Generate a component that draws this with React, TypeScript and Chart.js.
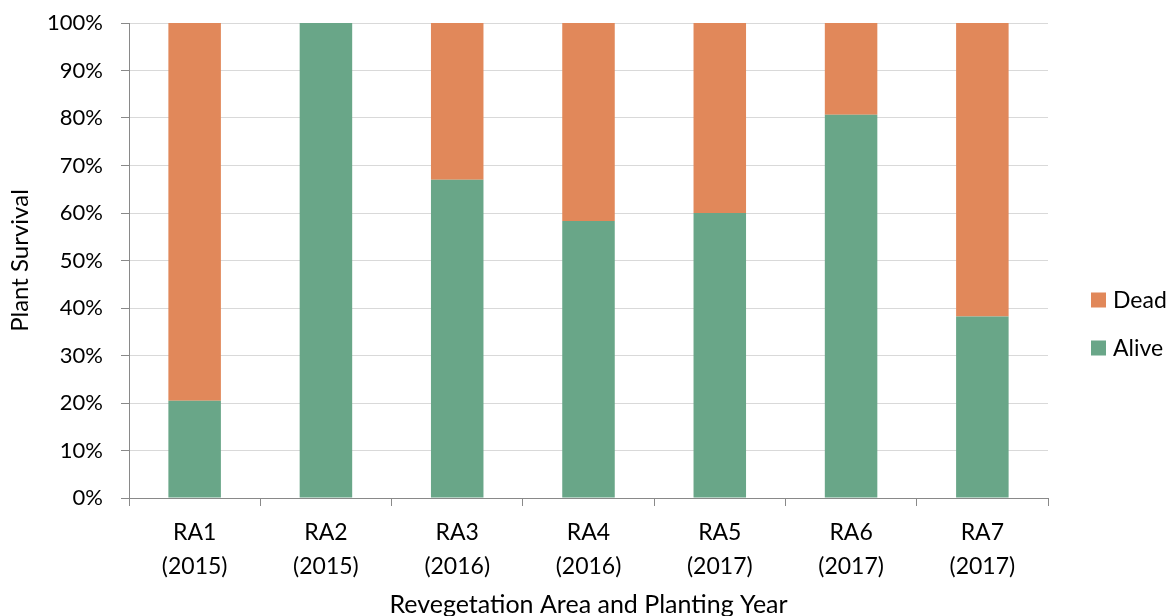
import React, { useEffect, useRef } from "react";
import { Chart, registerables } from "chart.js";

Chart.register(...registerables);

const categories: string[][] = [
  ["RA1", "(2015)"],
  ["RA2", "(2015)"],
  ["RA3", "(2016)"],
  ["RA4", "(2016)"],
  ["RA5", "(2017)"],
  ["RA6", "(2017)"],
  ["RA7", "(2017)"],
];
const aliveValues = [20.5, 100, 67, 58.3, 60, 80.7, 38.2];
const deadValues = [79.5, 0, 33, 41.7, 40, 19.3, 61.8];
const yTickValues = [0, 10, 20, 30, 40, 50, 60, 70, 80, 90, 100];

const FONT = "Lato, 'Open Sans', sans-serif";
const TEXT = "#000000";
const AXIS = "#898989";
const GRID = "#d9d9d9";

const legendPlugin = {
  id: "customLegend",
  afterDraw(chart: any) {
    const ctx = chart.ctx;
    const ds = chart.data.datasets.slice().reverse();
    ctx.save();
    ctx.font = `23px ${FONT}`;
    ctx.textBaseline = "middle";
    ctx.textAlign = "left";
    ds.forEach((d: any, i: number) => {
      const cy = 300 + i * 48;
      ctx.fillStyle = d.backgroundColor;
      ctx.fillRect(1091, cy - 7.5, 15, 15);
      ctx.fillStyle = TEXT;
      ctx.fillText(d.label, 1113, cy + 1);
    });
    ctx.restore();
  },
};

export default function App() {
  const ref = useRef<HTMLCanvasElement>(null);
  useEffect(() => {
    if (!ref.current) return;
    const chart = new Chart(ref.current, {
      type: "bar",
      data: {
        labels: categories,
        datasets: [
          {
            label: "Alive",
            data: aliveValues,
            backgroundColor: "#69A688",
            borderWidth: 0,
            categoryPercentage: 0.4,
            barPercentage: 1,
          },
          {
            label: "Dead",
            data: deadValues,
            backgroundColor: "#E1885A",
            borderWidth: 0,
            categoryPercentage: 0.4,
            barPercentage: 1,
          },
        ],
      },
      options: {
        responsive: false,
        animation: false,
        layout: { padding: { top: 23, right: 120, bottom: 0, left: 0 } },
        plugins: {
          legend: { display: false },
          tooltip: { enabled: false },
        },
        scales: {
          x: {
            stacked: true,
            grid: {
              drawOnChartArea: false,
              drawTicks: true,
              tickLength: 8,
              offset: true,
              color: AXIS,
            },
            border: { color: AXIS, width: 1 },
            ticks: {
              color: TEXT,
              padding: 10,
              maxRotation: 0,
              font: { family: FONT, size: 23, lineHeight: 34 / 23 },
            },
            title: {
              display: true,
              text: "Revegetation Area and Planting Year",
              color: TEXT,
              font: { family: FONT, size: 25, lineHeight: 1.0 },
              padding: { top: 0, bottom: -1 },
            },
            afterFit(scale: any) {
              scale.height = 118;
            },
          },
          y: {
            stacked: true,
            min: 0,
            max: 100,
            afterBuildTicks(scale: any) {
              scale.ticks = yTickValues.map((v) => ({ value: v }));
            },
            grid: {
              color: GRID,
              tickColor: AXIS,
              tickLength: 8,
              lineWidth: 1,
            },
            border: { color: AXIS, width: 1 },
            ticks: {
              color: TEXT,
              padding: 18,
              font: { family: FONT, size: 22 },
              callback: (v: any) => `${v}%`,
            },
            title: {
              display: true,
              text: "Plant Survival",
              color: TEXT,
              font: { family: FONT, size: 24 },
              padding: { top: 6, bottom: 0 },
            },
            afterFit(scale: any) {
              scale.width = 129;
              scale.paddingTop = 0;
              scale.paddingBottom = 0;
            },
          },
        },
      },
      plugins: [legendPlugin],
    });
    return () => chart.destroy();
  }, []);
  return (
    <div style={{ position: "absolute", left: 0, top: 0, width: 1168, height: 616 }}>
      <canvas ref={ref} width={1168} height={616} />
    </div>
  );
}
